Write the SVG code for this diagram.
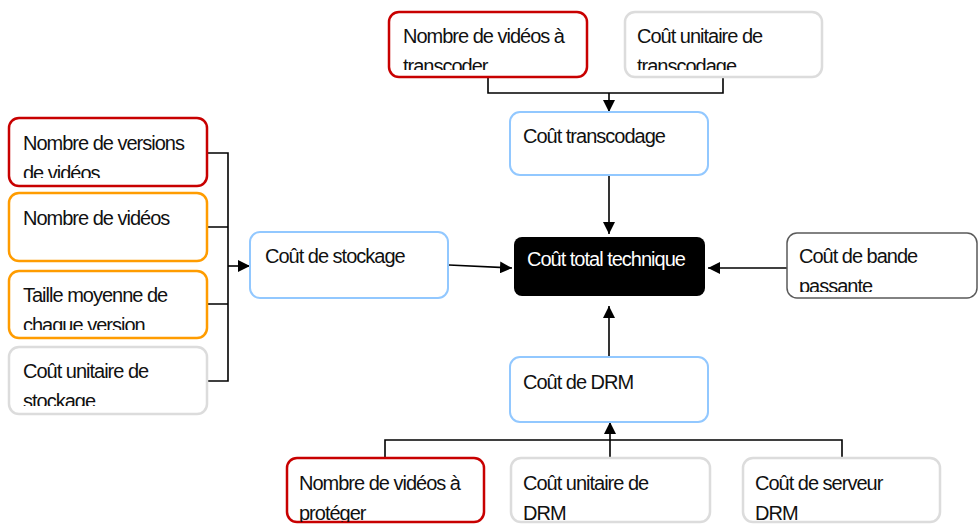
<svg xmlns="http://www.w3.org/2000/svg" width="978" height="524" viewBox="0 0 978 524">
<style>
  .box{fill:#fff;stroke-width:2}
  .red{stroke:#c80000;stroke-width:2.5}
  .orange{stroke:#ff9c00;stroke-width:2.5}
  .grey{stroke:#dcdcdc;stroke-width:2.5}
  .blue{stroke:#92c8ff;stroke-width:2}
  .dark{stroke:#5a5a5a;stroke-width:1.5}
  .t{font-family:"Liberation Sans",Arial,sans-serif;font-size:20px;letter-spacing:-1px;fill:#111}
  .w{fill:#fff}
  .c{fill:none;stroke:#000;stroke-width:1.6}
</style>
<defs>
  <marker id="ah" viewBox="0 0 12 12" refX="12" refY="6" markerWidth="12" markerHeight="12" markerUnits="userSpaceOnUse" orient="auto">
    <path d="M0,0 L12,6 L0,12 Z" fill="#000"/>
  </marker>
  <clipPath id="cp1"><rect x="389" y="12" width="198" height="58"/></clipPath>
  <clipPath id="cp2"><rect x="625" y="12" width="197" height="58"/></clipPath>
  <clipPath id="cp3"><rect x="9" y="118" width="198" height="60"/></clipPath>
  <clipPath id="cp5"><rect x="9" y="271" width="198" height="59"/></clipPath>
  <clipPath id="cp6"><rect x="9" y="347" width="198" height="59"/></clipPath>
  <clipPath id="cp7"><rect x="787" y="233" width="191" height="59"/></clipPath>
  <clipPath id="cp8"><rect x="287" y="458" width="197" height="64"/></clipPath>
  <clipPath id="cp9"><rect x="511" y="458" width="199" height="64"/></clipPath>
  <clipPath id="cp10"><rect x="743" y="458" width="197" height="64"/></clipPath>
</defs>

<g id="connectors">
  <path class="c" d="M488,77 V93 H723 V77"/>
  <path class="c" d="M609,93 V112" marker-end="url(#ah)"/>
  <path class="c" d="M609,175 V234" marker-end="url(#ah)"/>
  <path class="c" d="M207,153 H228 V381 H207 M207,227 H228 M207,304 H228"/>
  <path class="c" d="M228,266 H250" marker-end="url(#ah)"/>
  <path class="c" d="M449,265 L512,268" marker-end="url(#ah)"/>
  <path class="c" d="M787,268 H708" marker-end="url(#ah)"/>
  <path class="c" d="M609,357 V306" marker-end="url(#ah)"/>
  <path class="c" d="M385,458 V440 H842 V458 M610,458 V440"/>
  <path class="c" d="M610,440 V422" marker-end="url(#ah)"/>
</g>

<g id="n_videos_transcoder">
  <rect class="box red" x="389" y="12" width="198" height="65" rx="10"/>
  <text class="t" x="403" y="43" clip-path="url(#cp1)">Nombre de vidéos à<tspan x="403" y="73">transcoder</tspan></text>
</g>
<g id="n_cout_unit_transcodage">
  <rect class="box grey" x="625" y="12" width="197" height="65" rx="10"/>
  <text class="t" x="637" y="43" clip-path="url(#cp2)">Coût unitaire de<tspan x="637" y="73">transcodage</tspan></text>
</g>
<g id="n_cout_transcodage">
  <rect class="box blue" x="510" y="112" width="198" height="63" rx="10"/>
  <text class="t" x="523" y="143">Coût transcodage</text>
</g>

<g id="n_versions">
  <rect class="box red" x="9" y="118" width="198" height="68" rx="10"/>
  <text class="t" x="23" y="150" clip-path="url(#cp3)">Nombre de versions<tspan x="23" y="180">de vidéos</tspan></text>
</g>
<g id="n_videos">
  <rect class="box orange" x="9" y="193" width="198" height="68" rx="10"/>
  <text class="t" x="23" y="225">Nombre de vidéos</text>
</g>
<g id="n_taille">
  <rect class="box orange" x="9" y="271" width="198" height="67" rx="10"/>
  <text class="t" x="23" y="302" clip-path="url(#cp5)">Taille moyenne de<tspan x="23" y="332">chaque version</tspan></text>
</g>
<g id="n_cout_unit_stockage">
  <rect class="box grey" x="9" y="347" width="198" height="67" rx="10"/>
  <text class="t" x="23" y="378" clip-path="url(#cp6)">Coût unitaire de<tspan x="23" y="408">stockage</tspan></text>
</g>
<g id="n_cout_stockage">
  <rect class="box blue" x="250" y="232" width="198" height="66" rx="10"/>
  <text class="t" x="265" y="263">Coût de stockage</text>
</g>

<g id="n_total">
  <rect x="514" y="237" width="191" height="59" rx="8" fill="#000"/>
  <text class="t w" x="527" y="266">Coût total technique</text>
</g>
<g id="n_bande">
  <rect class="box dark" x="787" y="233" width="190" height="65" rx="10"/>
  <text class="t" x="799" y="263" clip-path="url(#cp7)">Coût de bande<tspan x="799" y="293">passante</tspan></text>
</g>

<g id="n_cout_drm">
  <rect class="box blue" x="510" y="357" width="198" height="65" rx="10"/>
  <text class="t" x="523" y="389">Coût de DRM</text>
</g>
<g id="n_videos_proteger">
  <rect class="box red" x="287" y="458" width="197" height="64" rx="10"/>
  <text class="t" x="299" y="490" clip-path="url(#cp8)">Nombre de vidéos à<tspan x="299" y="520">protéger</tspan></text>
</g>
<g id="n_cout_unit_drm">
  <rect class="box grey" x="511" y="458" width="199" height="64" rx="10"/>
  <text class="t" x="523" y="490" clip-path="url(#cp9)">Coût unitaire de<tspan x="523" y="520">DRM</tspan></text>
</g>
<g id="n_serveur_drm">
  <rect class="box grey" x="743" y="458" width="197" height="64" rx="10"/>
  <text class="t" x="755" y="490" clip-path="url(#cp10)">Coût de serveur<tspan x="755" y="520">DRM</tspan></text>
</g>
</svg>
